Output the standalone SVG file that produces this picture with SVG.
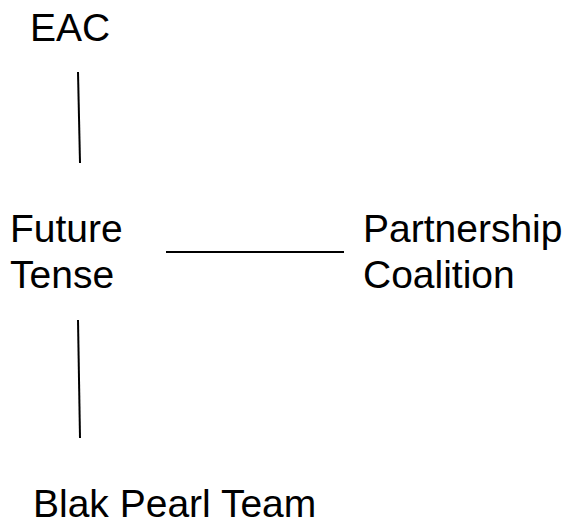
<svg xmlns="http://www.w3.org/2000/svg" width="567" height="525" viewBox="0 0 567 525">
<style>
text{font-family:"Liberation Sans",Arial,sans-serif;font-size:39px;fill:#000}
.c line{stroke:#000;stroke-width:2}
</style>
<rect width="567" height="525" fill="#fff"/>
<g id="eac"><text x="30" y="41">EAC</text></g>
<g id="future-tense"><text x="10" y="242">Future</text><text x="10" y="288">Tense</text></g>
<g id="partnership-coalition"><text x="363" y="242">Partnership</text><text x="363" y="288">Coalition</text></g>
<g id="blak-pearl-team"><text x="33" y="517">Blak Pearl Team</text></g>
<g class="c" id="connectors">
<line x1="78" y1="72" x2="80" y2="163"/>
<line x1="166" y1="252" x2="344" y2="252"/>
<line x1="78" y1="320" x2="80" y2="438"/>
</g>
</svg>
